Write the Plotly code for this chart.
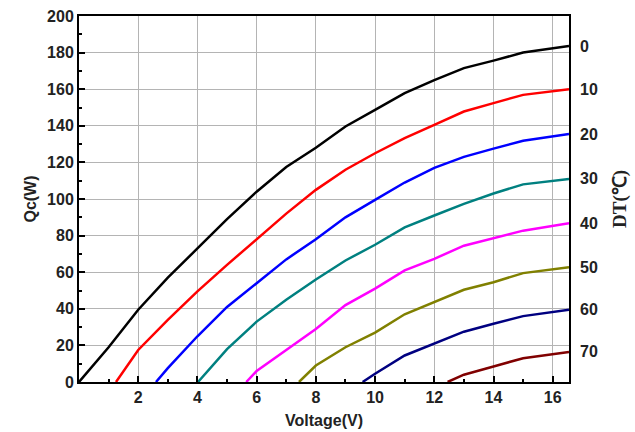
import plotly.graph_objects as go

# Voltage (V) / Qc (W) for each DT curve
v_dt0 = [0, 1, 2, 3, 4, 5, 6, 7, 8, 9, 10, 11, 12, 13, 14, 15, 16.55]
q_dt0 = [0, 19, 39.5, 57, 73, 89, 104, 117.5, 128, 139.6, 148.7, 157.8, 165, 171.5, 175.6, 180, 183.6]

v_dt10 = [1.25, 2, 3, 4, 5, 6, 7, 8, 9, 10, 11, 12, 13, 14, 15, 16.55]
q_dt10 = [0, 17.5, 34, 49.5, 64, 78, 92, 105, 116, 125, 133.3, 140.5, 147.8, 152.4, 156.9, 160]

v_dt20 = [2.6, 3, 4, 5, 6, 7, 8, 9, 10, 11, 12, 13, 14, 15, 16.55]
q_dt20 = [0, 7.6, 25, 41, 54, 67, 78, 90, 99.5, 109, 117, 123, 127.5, 131.8, 135.5]

v_dt30 = [4.02, 5, 6, 7, 8, 9, 10, 11, 12, 13, 14, 15, 16.55]
q_dt30 = [0, 18, 33, 45, 56, 66.4, 75, 84.5, 91, 97.3, 103, 108, 111]

v_dt40 = [5.65, 6, 7, 8, 9, 10, 11, 12, 13, 14, 15, 16.55]
q_dt40 = [0, 6, 17.5, 29, 42, 51, 61, 67.3, 74.5, 78.7, 82.7, 86.7]

v_dt50 = [7.43, 8, 9, 10, 11, 12, 13, 14, 15, 16.55]
q_dt50 = [0, 9, 19, 27, 37, 43.6, 50.4, 54.5, 59.5, 62.7]

v_dt60 = [9.58, 10, 11, 12, 13, 14, 15, 16.55]
q_dt60 = [0, 4.5, 14.5, 21, 27.5, 31.8, 36, 39.5]

v_dt70 = [12.45, 13, 14, 15, 16.55]
q_dt70 = [0, 4, 8.5, 13, 16.4]

dt_labels = ["0", "10", "20", "30", "40", "50", "60", "70"]
x_ticks = [2, 4, 6, 8, 10, 12, 14, 16]
y_ticks = [0, 20, 40, 60, 80, 100, 120, 140, 160, 180, 200]

series = [
    (v_dt0, q_dt0, "#000000"),
    (v_dt10, q_dt10, "#FF0000"),
    (v_dt20, q_dt20, "#0000FF"),
    (v_dt30, q_dt30, "#008080"),
    (v_dt40, q_dt40, "#FF00FF"),
    (v_dt50, q_dt50, "#808000"),
    (v_dt60, q_dt60, "#000080"),
    (v_dt70, q_dt70, "#800000"),
]

fig = go.Figure()
for (vx, qy, col), lab in zip(series, dt_labels):
    fig.add_trace(go.Scatter(x=vx, y=qy, mode="lines", name="DT " + lab,
                             line=dict(color=col, width=2.5), showlegend=False))

bold = dict(family="Liberation Sans, Arial", size=16, color="#222222", weight="bold")

for (vx, qy, col), lab in zip(series, dt_labels):
    fig.add_annotation(xref="paper", x=1, xanchor="left", xshift=9,
                       yref="y", y=qy[-1], text=lab, showarrow=False, font=bold)

fig.add_annotation(xref="paper", x=1, xanchor="center", xshift=51,
                   yref="paper", y=0.5, text="DT(℃)", textangle=-90, showarrow=False,
                   font=dict(family="Liberation Serif, Times New Roman", size=19,
                             color="#222222", weight="bold"))

axis_common = dict(showline=True, linecolor="black", linewidth=2, mirror=True,
                   showgrid=True, gridcolor="#b4b4b4", gridwidth=1,
                   ticks="inside", ticklen=6, tickwidth=2, tickcolor="black",
                   tickfont=bold, zeroline=False, automargin=False)

fig.update_xaxes(range=[0, 16.55], tickvals=x_ticks, **axis_common,
                 minor=dict(ticks="inside", ticklen=3, tickwidth=2, dtick=1,
                            tick0=0, showgrid=False, tickcolor="black"),
                 title=dict(text="Voltage(V)", font=bold, standoff=10))
fig.update_yaxes(range=[0, 200], tickvals=y_ticks, **axis_common,
                 minor=dict(ticks="inside", ticklen=3, tickwidth=2, dtick=10,
                            tick0=0, showgrid=False, tickcolor="black"),
                 title=dict(text="Qc(W)", font=bold, standoff=6))

fig.update_layout(width=635, height=432, plot_bgcolor="white", paper_bgcolor="white",
                  margin=dict(l=79, r=66, t=16, b=50))

fig.write_html("out.html", config={"displayModeBar": False},
               post_script="document.body.style.margin='0';")
